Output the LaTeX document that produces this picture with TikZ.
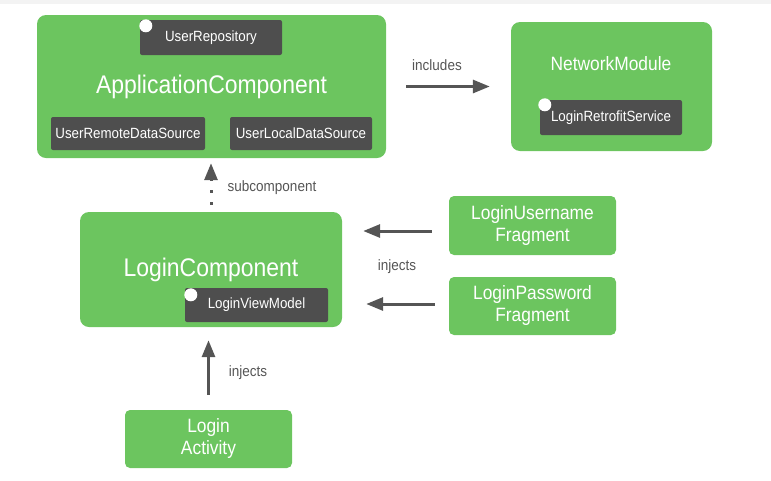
\documentclass[tikz,border=0pt]{standalone}
\usepackage{fontspec}
\setmainfont[FakeStretch=0.9]{Liberation Sans}
\usetikzlibrary{arrows.meta,calc}
\definecolor{boxgreen}{RGB}{108,197,95}
\definecolor{boxdark}{RGB}{78,78,78}
\definecolor{arrowgray}{RGB}{85,85,85}
\definecolor{topband}{RGB}{243,243,243}
\tikzset{
  greenbox/.style = {fill=boxgreen, rounded corners=9pt, text=white, align=center, inner sep=0pt},
  darkbox/.style  = {fill=boxdark, rounded corners=2pt, text=white, font=\fontsize{14.8}{17}\selectfont, inner sep=0pt},
  dot/.style      = {circle, fill=white, minimum size=13pt, inner sep=0pt},
  lbl/.style      = {text=arrowgray, font=\fontsize{15}{17}\selectfont}
}
\newcommand{\bigfont}{\fontsize{25.5}{30}\selectfont}
\newcommand{\midfont}{\fontsize{19.3}{22}\selectfont}

\begin{document}
\begin{tikzpicture}[x=1pt, y=1pt]
  \tikzstyle{thickarrow}=[line width=3pt, draw=arrowgray, -{Triangle[length=17pt, width=13pt]}]
  \useasboundingbox (0,0) rectangle (771,-480);
  \fill[topband] (0,0) rectangle (771,-4);
  % application component
  \node[greenbox, minimum width=349, minimum height=143, font=\bigfont] (app) at (211.5,-86.5) {ApplicationComponent};
  \node[darkbox, minimum width=142, minimum height=35] (repo) at (211,-37.5) {UserRepository};
  \node[darkbox, minimum width=154, minimum height=33] (remote) at (128,-133.5) {UserRemoteDataSource};
  \node[darkbox, minimum width=142, minimum height=33] (local) at (301,-133.5) {UserLocalDataSource};
  \node[dot] (repodot) at ([shift={(6,-6)}]repo.north west) {};
  % network module
  \node[greenbox, minimum width=201, minimum height=129] (net) at (611.5,-86.5) {};
  \node[text=white, font=\midfont] (nettitle) at (611,-64) {NetworkModule};
  \node[darkbox, minimum width=142, minimum height=35] (retro) at (611,-117.5) {LoginRetrofitService};
  \node[dot] (retrodot) at ([shift={(5,-5)}]retro.north west) {};
  % login component
  \node[greenbox, minimum width=262, minimum height=115, font=\bigfont] (loginc) at (211,-269.5) {LoginComponent};
  \node[darkbox, minimum width=143, minimum height=34] (vm) at (256.5,-305) {LoginViewModel};
  \node[dot] (vmdot) at ([shift={(6,-7)}]vm.north west) {};
  % fragments and activity
  \node[greenbox, rounded corners=5pt, minimum width=167, minimum height=59, font=\midfont] (user) at (532.5,-225.5) {LoginUsername\\Fragment};
  \node[greenbox, rounded corners=5pt, minimum width=167, minimum height=58, font=\midfont] (pass) at (532.5,-306) {LoginPassword\\Fragment};
  \node[greenbox, rounded corners=5pt, minimum width=167, minimum height=58, font=\midfont] (act) at (208.5,-439) {Login\\Activity};
  % connectors
  \draw[thickarrow, shorten <=20pt, shorten >=21pt] (app) -- (net);
  \draw[thickarrow, dash pattern=on 3pt off 9pt, shorten <=7pt, shorten >=5pt] (loginc.north) -- (loginc.north |- app.south);
  \draw[thickarrow, shorten <=17pt, shorten >=21pt] ([yshift=-5.5pt]user.west) -- ([yshift=-5.5pt]user.west -| loginc.east);
  \draw[thickarrow, shorten <=14pt, shorten >=24pt] ([yshift=2pt]pass.west) -- ([yshift=2pt]pass.west -| loginc.east);
  \draw[thickarrow, shorten <=15pt, shorten >=13pt] (act.north) -- (act.north |- loginc.south);
  % labels
  \node[lbl] (inclbl) at (437,-65) {includes};
  \node[lbl] (sublbl) at (272,-188) {subcomponent};
  \node[lbl] (fraglbl) at (397,-267) {injects};
  \node[lbl] (actlbl) at (248,-373) {injects};
\end{tikzpicture}
\end{document}
